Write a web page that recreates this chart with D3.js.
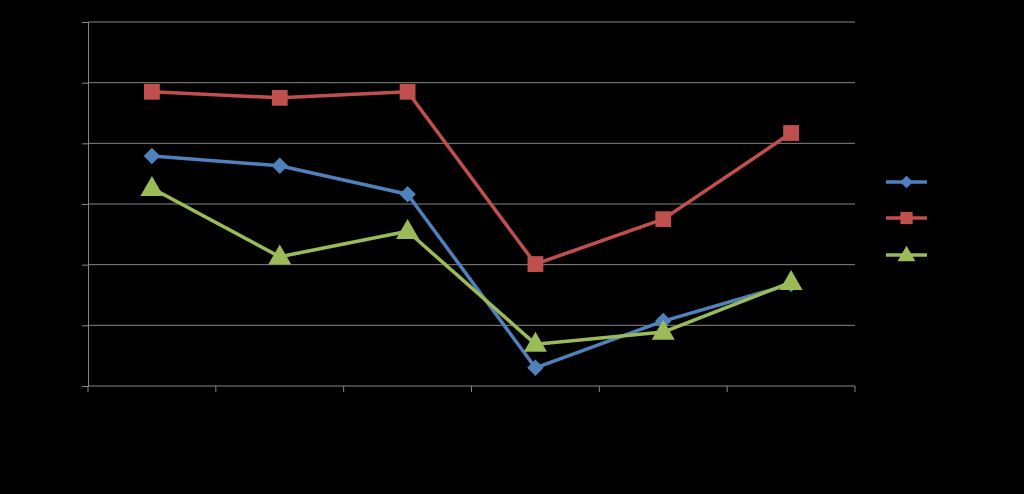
<!DOCTYPE html>
<html><head><meta charset="utf-8">
<script src="https://cdn.jsdelivr.net/npm/d3@7"></script>
<style>html,body{margin:0;padding:0;background:#000;}svg{display:block;}</style>
</head><body>
<svg id="c" width="1024" height="494"></svg>
<script>
const categories = ["1","2","3","4","5","6"];
const seriesNames = ["Series 1","Series 2","Series 3"];
const blueValues = [3.79, 3.63, 3.16, 0.30, 1.07, 1.68];
const redValues = [4.85, 4.75, 4.85, 2.01, 2.75, 4.17];
const greenValues = [3.26, 2.13, 2.55, 0.69, 0.89, 1.71];
const yTicks = [0,1,2,3,4,5,6];

const colors = ["#4F81BD","#C0504D","#9BBB59"];
const symbols = [d3.symbolSquare, d3.symbolSquare, d3.symbolTriangle];
const symRot = [45, 0, 0];
const symSizes = [135, 250, 230];
const series = [blueValues, redValues, greenValues];

const svg = d3.select("#c");
const L = 88, R = 855, T = 22, B = 386;
const x = d3.scaleBand().domain(categories).range([L, R]);
const y = d3.scaleLinear().domain([0, 6]).range([B, T]);
const grid = "#868686";

svg.append("g").selectAll("line").data(yTicks.slice(1)).join("line")
  .attr("x1", L).attr("x2", R).attr("y1", d => y(d)).attr("y2", d => y(d))
  .attr("stroke", grid).attr("stroke-width", 1);

const ya = svg.append("g").attr("transform", `translate(${L},0)`)
  .call(d3.axisLeft(y).tickValues(yTicks).tickSize(6).tickPadding(4));
ya.select(".domain").attr("stroke", grid);
ya.selectAll(".tick line").attr("stroke", grid);
ya.selectAll("text").attr("fill", "#000").attr("font-family", "Liberation Sans, Arial").attr("font-size", 12);

const xa = svg.append("g").attr("transform", `translate(0,${B})`)
  .call(d3.axisBottom(x).tickSize(0).tickPadding(10));
xa.select(".domain").attr("stroke", grid).attr("d", `M${L},0H${R}`);
xa.selectAll(".tick line").remove();
xa.selectAll("text").attr("fill", "#000").attr("font-family", "Liberation Sans, Arial").attr("font-size", 12);
const edges = categories.map(c => x(c)).concat([R]);
svg.append("g").selectAll("line").data(edges).join("line")
  .attr("x1", d => d).attr("x2", d => d).attr("y1", B).attr("y2", B + 6)
  .attr("stroke", grid);

const line = d3.line().x((d, i) => x(categories[i]) + x.bandwidth() / 2).y(d => y(d));

series.forEach((vals, si) => {
  const g = svg.append("g");
  g.append("path").datum(vals).attr("d", line).attr("fill", "none")
    .attr("stroke", colors[si]).attr("stroke-width", 3.5).attr("stroke-linejoin", "round");
  g.selectAll("path.m").data(vals).join("path").attr("class", "m")
    .attr("transform", (d, i) => `translate(${x(categories[i]) + x.bandwidth() / 2},${y(d) + (si === 2 ? 1 : 0)}) rotate(${symRot[si]})`)
    .attr("d", d3.symbol().type(symbols[si]).size(symSizes[si]))
    .attr("fill", colors[si]);
});

const legY = [182, 218, 255];
series.forEach((vals, si) => {
  const g = svg.append("g").attr("transform", `translate(886,${legY[si]})`);
  g.append("line").attr("x1", 0).attr("x2", 41).attr("stroke", colors[si]).attr("stroke-width", 3.5);
  g.append("path").attr("transform", `translate(20.5,${si === 2 ? 1 : 0}) rotate(${symRot[si]})`)
    .attr("d", d3.symbol().type(symbols[si]).size(symSizes[si] * 0.6)).attr("fill", colors[si]);
  g.append("text").attr("x", 50).attr("y", 4).attr("fill", "#000")
    .attr("font-family", "Liberation Sans, Arial").attr("font-size", 12).text(seriesNames[si]);
});
</script>
</body></html>
